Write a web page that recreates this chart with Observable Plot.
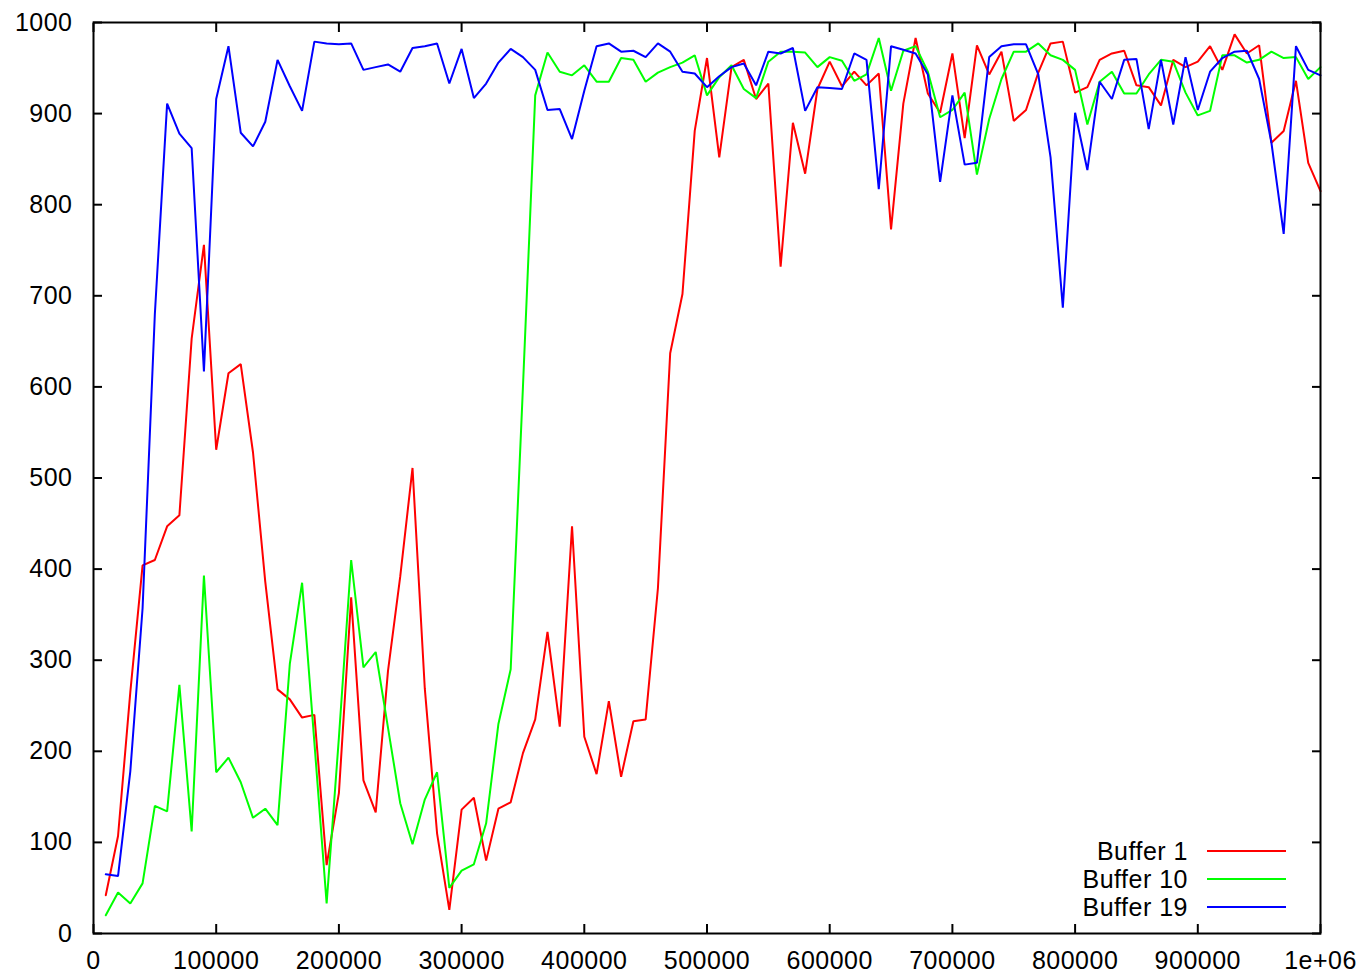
<!DOCTYPE html>
<html>
<head>
<meta charset="utf-8">
<script src="https://cdn.jsdelivr.net/npm/d3@7"></script>
<script src="https://cdn.jsdelivr.net/npm/@observablehq/plot@0.6"></script>
<style>
  html, body { margin: 0; padding: 0; background: #ffffff; }
  #chart { width: 1368px; height: 974px; }
  #chart text { letter-spacing: 0.5px; }
</style>
</head>
<body>
<div id="chart"></div>
<script>
// Sample positions (every 10000, from 10000 to 1e6)
const xSamples = d3.range(1, 101).map(k => k * 10000);

const seriesNames = ["Buffer 1", "Buffer 10", "Buffer 19"];
const seriesColors = ["#ff0000", "#00ff00", "#0000ff"];

const buffer1 = [
  42, 107, 265, 404, 410, 447, 459, 653, 756, 531,
  615, 625, 528, 386, 268, 257, 237, 240, 75, 154,
  369, 168, 133, 288, 392, 511, 269, 110, 26, 136,
  149, 80, 137, 144, 198, 235, 331, 227, 447, 216,
  175, 255, 172, 233, 235, 379, 637, 702, 881, 961,
  852, 951, 959, 916, 933, 732, 890, 834, 927, 957,
  930, 946, 931, 944, 773, 911, 983, 922, 901, 966,
  873, 975, 943, 968, 892, 904, 945, 977, 979, 923,
  929, 959, 966, 969, 931, 929, 909, 959, 951, 957,
  974, 948, 987, 966, 975, 868, 881, 936, 846, 815
];

const buffer10 = [
  20, 45, 33, 55, 140, 134, 273, 112, 393, 177,
  193, 166, 127, 137, 119, 296, 385, 210, 33, 215,
  410, 292, 309, 226, 143, 98, 147, 177, 50, 69,
  76, 121, 230, 290, 600, 920, 967, 946, 942, 953,
  935, 935, 961, 959, 935, 945, 951, 956, 964, 920,
  940, 953, 927, 917, 957, 968, 968, 967, 951, 962,
  958, 936, 943, 983, 925, 969, 974, 946, 896, 904,
  923, 833, 894, 938, 968, 968, 977, 964, 959, 948,
  888, 935, 946, 922, 922, 943, 959, 957, 923, 898,
  903, 964, 964, 956, 959, 968, 961, 962, 938, 951
];

const buffer19 = [
  65, 63, 178, 357, 680, 911, 878, 862, 617, 916,
  974, 879, 864, 891, 959, 930, 903, 979, 977, 976,
  977, 948, 951, 954, 946, 972, 974, 977, 933, 971,
  917, 933, 956, 971, 962, 948, 904, 905, 872, 925,
  974, 977, 968, 969, 962, 977, 968, 946, 944, 929,
  941, 951, 955, 931, 968, 966, 972, 903, 929, 928,
  927, 966, 959, 817, 974, 970, 966, 943, 825, 920,
  844, 846, 962, 974, 976, 976, 943, 852, 687, 901,
  838, 935, 916, 959, 960, 883, 959, 888, 962, 904,
  946, 961, 968, 969, 938, 868, 768, 974, 948, 942
];

const xTicks = [0, 100000, 200000, 300000, 400000, 500000, 600000, 700000, 800000, 900000, 1000000];
const xTickLabels = ["0", "100000", "200000", "300000", "400000", "500000", "600000", "700000", "800000", "900000", "1e+06"];
const yTicks = [0, 100, 200, 300, 400, 500, 600, 700, 800, 900, 1000];
const yTickLabels = ["0", "100", "200", "300", "400", "500", "600", "700", "800", "900", "1000"];

// Build a long table for the library
const allSeries = [buffer1, buffer10, buffer19];
const rows = [];
allSeries.forEach((vals, s) => {
  vals.forEach((v, i) => rows.push({series: seriesNames[s], x: xSamples[i], y: v}));
});

const FONT = "'Liberation Sans', Arial, Helvetica, sans-serif";
const FS = 25;

const chart = Plot.plot({
  width: 1368,
  height: 974,
  marginLeft: 93,
  marginRight: 48,
  marginTop: 22,
  marginBottom: 41,
  style: {fontFamily: FONT, fontSize: FS + "px", background: "#ffffff", color: "#000000"},
  x: {domain: [0, 1000000]},
  y: {domain: [0, 1000]},
  color: {domain: seriesNames, range: seriesColors},
  marks: [
    // tick labels
    Plot.axisX(xTicks, {anchor: "bottom", tickSize: 0, tickPadding: 17.5, fontSize: FS,
      tickFormat: d => xTickLabels[xTicks.indexOf(d)], label: null}),
    Plot.axisY(yTicks, {anchor: "left", tickSize: 0, tickPadding: 21, fontSize: FS,
      tickFormat: d => yTickLabels[yTicks.indexOf(d)], label: null}),
    // inward tick marks on all four sides
    Plot.axisX(xTicks, {anchor: "bottom", tickSize: 9, dy: -9, strokeWidth: 2, tickFormat: () => "", label: null}),
    Plot.axisX(xTicks, {anchor: "top", tickSize: 9, dy: 9, strokeWidth: 2, tickFormat: () => "", label: null}),
    Plot.axisY(yTicks, {anchor: "left", tickSize: 9, dx: 9, strokeWidth: 2, tickFormat: () => "", label: null}),
    Plot.axisY(yTicks, {anchor: "right", tickSize: 9, dx: -9, strokeWidth: 2, tickFormat: () => "", label: null}),
    // data lines
    Plot.line(rows, {x: "x", y: "y", z: "series", stroke: "series", strokeWidth: 2, strokeLinejoin: "miter"}),
    Plot.frame({stroke: "#000000", strokeWidth: 2})
  ]
});

document.getElementById("chart").appendChild(chart);

// Legend (inside the plot, bottom-right), drawn into the same SVG
const svg = d3.select(chart.tagName.toLowerCase() === "svg" ? chart : chart.querySelector("svg"));
const legend = svg.append("g").attr("class", "legend");
seriesNames.forEach((name, i) => {
  const yy = 851 + i * 28;
  legend.append("text")
    .attr("x", 1188).attr("y", yy)
    .attr("text-anchor", "end")
    .attr("dominant-baseline", "central")
    .attr("font-family", FONT)
    .attr("font-size", FS)
    .attr("fill", "#000000")
    .text(name);
  legend.append("line")
    .attr("x1", 1207).attr("x2", 1286)
    .attr("y1", yy).attr("y2", yy)
    .attr("stroke", seriesColors[i])
    .attr("stroke-width", 2);
});
</script>
</body>
</html>
